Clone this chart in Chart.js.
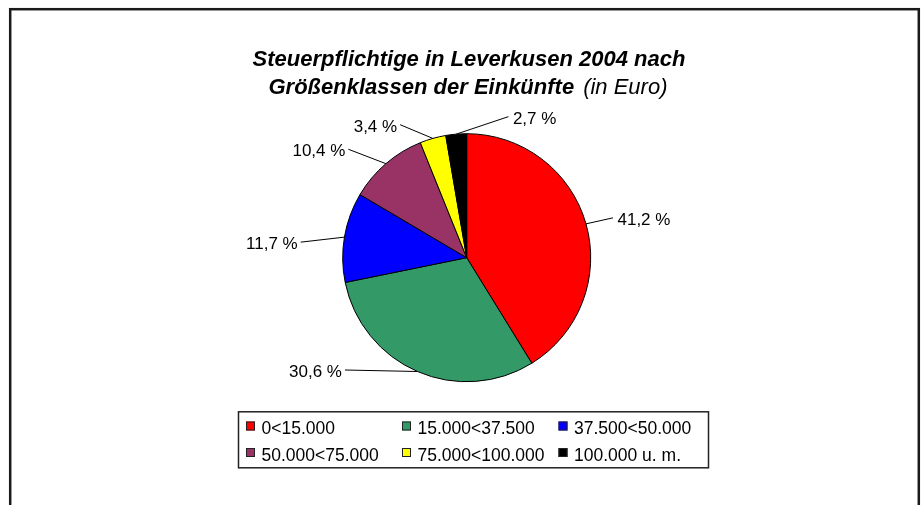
<!DOCTYPE html>
<html>
<head>
<meta charset="utf-8">
<script src="https://cdn.jsdelivr.net/npm/chart.js@4.4.1/dist/chart.umd.min.js"></script>
<style>
  html, body { margin: 0; padding: 0; background: #fff; overflow: hidden; }
  canvas { display: block; }
</style>
</head>
<body>
<canvas id="pieChart" width="923" height="505"></canvas>
<script>
// income classes (Euro) and share of taxpayers in %
const classes = ['0<15.000', '15.000<37.500', '37.500<50.000', '50.000<75.000', '75.000<100.000', '100.000 u. m.'];
const shares = [41.2, 30.6, 11.7, 10.4, 3.4, 2.7];
const sliceColors = ['#FF0000', '#339966', '#0000FF', '#993366', '#FFFF00', '#000000'];

const titleLine1 = 'Steuerpflichtige in Leverkusen 2004 nach';
const titleLine2 = 'Größenklassen der Einkünfte';
const titleUnit = '(in Euro)';

// where each leader line ends, relative to the slice edge
const labelOffsets = [[27, -6], [-72.5, -1.5], [-43.7, 5], [-37.5, -14.4], [-32.7, -13.7], [52.2, -17.5]];

const FONT = "'Liberation Sans', Arial, sans-serif";

function fmt(v) {
    return v.toFixed(1).replace('.', ',') + ' %';
}

const decor = {
    id: 'decor',
    beforeDraw(chart) {
        const ctx = chart.ctx;
        ctx.save();
        ctx.fillStyle = '#fff';
        ctx.fillRect(0, 0, chart.width, chart.height);
        ctx.strokeStyle = '#1a1a1a';
        ctx.lineWidth = 2.5;
        ctx.strokeRect(10.2, 9.2, 908.6, 700);
        ctx.restore();
    },
    afterDatasetsDraw(chart) {
        const ctx = chart.ctx;
        const arcs = chart.getDatasetMeta(0).data;
        ctx.save();
        ctx.font = '17px ' + FONT;
        ctx.fillStyle = '#000';
        ctx.strokeStyle = '#000';
        ctx.lineWidth = 1;
        arcs.forEach((arc, i) => {
            const mid = (arc.startAngle + arc.endAngle) / 2;
            const ax = arc.x + Math.cos(mid) * arc.outerRadius;
            const ay = arc.y + Math.sin(mid) * arc.outerRadius;
            const ex = ax + labelOffsets[i][0];
            const ey = ay + labelOffsets[i][1];
            ctx.beginPath();
            ctx.moveTo(ax, ay);
            ctx.lineTo(ex, ey);
            ctx.stroke();
            const right = labelOffsets[i][0] > 0;
            ctx.textAlign = right ? 'left' : 'right';
            ctx.textBaseline = 'alphabetic';
            ctx.fillText(fmt(shares[i]), right ? ex + 4.5 : ex - 3, ey + 7);
        });
        ctx.restore();
    },
    afterDraw(chart) {
        const ctx = chart.ctx;
        ctx.save();
        ctx.fillStyle = '#000';
        ctx.textBaseline = 'alphabetic';

        // title
        ctx.font = 'italic bold 22px ' + FONT;
        ctx.textAlign = 'center';
        ctx.fillText(titleLine1, 469, 66);
        ctx.textAlign = 'left';
        const w1 = ctx.measureText(titleLine2).width;
        ctx.font = 'italic 22px ' + FONT;
        const w2 = ctx.measureText(titleUnit).width;
        const gap = 9;
        const x0 = 468 - (w1 + gap + w2) / 2;
        ctx.font = 'italic bold 22px ' + FONT;
        ctx.fillText(titleLine2, x0, 94);
        ctx.font = 'italic 22px ' + FONT;
        ctx.fillText(titleUnit, x0 + w1 + gap, 94);

        // legend
        ctx.strokeStyle = '#222';
        ctx.lineWidth = 1.5;
        ctx.strokeRect(238.5, 411.8, 470, 56);
        const colX = [246, 402, 558.5];
        const rowY = [421.5, 448];
        ctx.font = '17.5px ' + FONT;
        ctx.lineWidth = 1;
        classes.forEach((name, i) => {
            const x = colX[i % 3];
            const y = rowY[Math.floor(i / 3)];
            ctx.fillStyle = sliceColors[i];
            ctx.fillRect(x, y, 9, 9);
            ctx.strokeStyle = '#222';
            ctx.strokeRect(x + 0.5, y + 0.5, 8, 8);
            ctx.fillStyle = '#000';
            ctx.fillText(name, x + 15.5, y + 12.8);
        });
        ctx.restore();
    }
};

new Chart(document.getElementById('pieChart'), {
    type: 'pie',
    data: {
        labels: classes,
        datasets: [{
            data: shares,
            backgroundColor: sliceColors,
            borderColor: '#000',
            borderWidth: 1,
            hoverOffset: 0
        }]
    },
    options: {
        responsive: false,
        animation: false,
        devicePixelRatio: 1,
        radius: 124,
        layout: {
            padding: { left: 336, right: 325.6, top: 127, bottom: 116.6 }
        },
        plugins: {
            legend: { display: false },
            title: { display: false },
            tooltip: { enabled: false }
        },
        events: []
    },
    plugins: [decor]
});
</script>
</body>
</html>
